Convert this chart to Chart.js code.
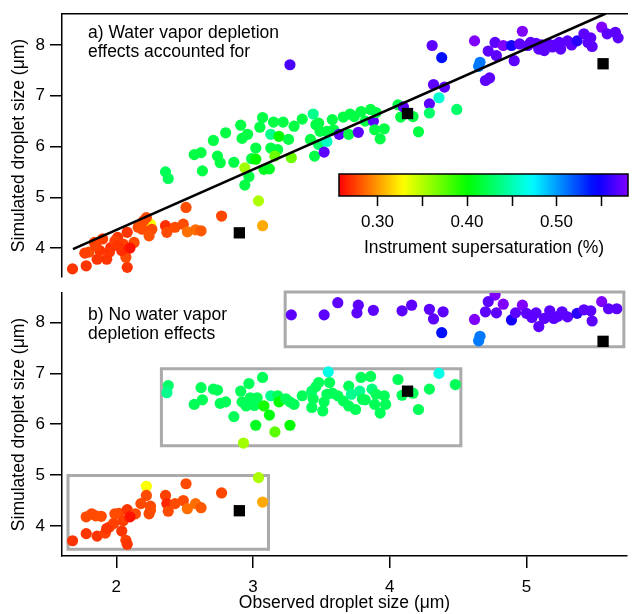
<!DOCTYPE html>
<html>
<head>
<meta charset="utf-8">
<script src="https://cdn.jsdelivr.net/npm/chart.js@4"></script>
<style>
  html, body { margin: 0; padding: 0; background: #fff; }
  #wrap { position: relative; width: 635px; height: 614px; }
  #wrap canvas { position: absolute; left: 0; }
  #topChart { top: 0; }
  #botChart { top: 285px; }
</style>
</head>
<body>
<div id="wrap">
  <canvas id="topChart" width="635" height="285" style="width:635px;height:285px"></canvas>
  <canvas id="botChart" width="635" height="329" style="width:635px;height:329px"></canvas>
</div>
<script>
// shared axis ticks
const xTicks = [2, 3, 4, 5];
const yTicks = [4, 5, 6, 7, 8];
const cbarTicks = [0.30, 0.35, 0.40, 0.45, 0.50, 0.55];
const cbarMin = 0.257, cbarMax = 0.58;

// panel a: water vapor depletion accounted for
const obsA = [
  2.25,1.68,1.78,2.08,2.07,1.93,1.86,1.80,1.84,1.90,1.96,2.01,2.05,2.08,2.13,2.19,2.22,2.26,2.24,2.36,
  2.37,2.43,2.49,2.51,2.52,2.58,2.62,2.77,3.04,3.07,1.77,1.88,1.99,2.04,2.16,2.20,1.85,1.95,2.01,2.10,
  2.36,2.38,2.57,2.62,2.63,2.71,2.74,2.76,2.80,2.86,2.91,2.92,2.96,2.94,2.97,2.94,2.99,3.02,3.05,3.07,
  3.02,3.08,3.12,3.13,3.13,3.18,3.16,3.15,3.19,3.22,3.26,3.28,3.30,3.36,3.44,3.42,3.45,3.48,3.49,3.48,
  3.46,3.54,3.54,3.52,3.58,3.59,3.63,3.66,3.71,3.70,3.74,3.77,3.79,3.82,3.86,3.88,3.90,3.89,3.93,3.96,
  4.06,4.08,4.10,4.17,4.21,4.29,4.29,4.32,4.40,4.36,4.49,
  3.27,4.31,4.38,4.62,4.66,4.65,4.70,4.73,4.72,4.78,4.77,4.83,4.91,4.89,4.97,4.95,5.01,5.03,5.07,5.09,
  5.11,5.13,5.16,5.19,5.21,5.24,5.25,5.30,5.33,5.37,5.42,5.45,5.47,5.48,5.55,5.59,5.65,5.67
];
const simA = [
  4.47,3.59,3.65,3.62,3.82,3.78,3.78,3.92,4.11,4.18,4.01,4.21,4.08,4.31,4.11,4.37,4.60,4.37,4.24,4.44,
  4.31,4.41,4.47,4.80,4.32,4.36,4.34,4.63,4.93,4.44,3.90,3.95,4.14,3.95,4.41,4.54,4.05,3.92,4.05,4.00,
  5.50,5.37,5.84,5.88,5.52,6.12,5.81,5.68,6.27,5.69,6.42,6.16,6.24,5.58,5.41,5.24,5.76,5.97,6.38,6.57,
  5.75,5.55,5.56,6.24,5.97,5.94,5.81,6.48,6.20,6.48,6.14,5.78,6.40,6.54,6.64,6.14,5.81,6.46,6.30,6.04,
  6.43,6.30,6.10,5.89,6.53,6.33,6.24,6.58,6.64,6.24,6.59,6.28,6.69,6.50,6.73,6.50,6.67,6.33,6.15,6.35,
  6.82,6.58,6.78,6.59,6.29,6.84,6.66,7.22,7.17,6.96,6.73,
  7.61,7.99,7.75,8.08,7.66,7.58,7.30,7.35,7.88,7.79,8.05,7.99,7.69,7.99,8.27,8.02,7.99,8.05,8.03,7.92,
  8.00,7.89,8.02,7.96,8.00,8.05,7.92,8.08,8.00,8.08,8.22,8.05,8.14,7.97,8.35,8.22,8.25,8.14
];
const ssA = [
  .330,.272,.272,.272,.278,.272,.272,.278,.278,.275,.270,.272,.275,.272,.278,.278,.278,.278,.280,.270,
  .278,.278,.278,.278,.288,.288,.282,.277,.352,.305,.275,.272,.275,.270,.278,.278,.275,.272,.272,.262,
  .425,.425,.42,.42,.42,.42,.42,.42,.42,.42,.42,.42,.42,.355,.42,.42,.42,.42,.42,.42,
  .40,.41,.41,.44,.42,.42,.37,.42,.40,.42,.42,.37,.42,.42,.44,.42,.42,.42,.42,.43,
  .42,.42,.455,.57,.42,.42,.57,.42,.42,.42,.42,.57,.42,.42,.42,.57,.42,.42,.42,.42,
  .42,.42,.57,.42,.42,.57,.43,.57,.57,.46,.43,
  .565,.57,.54,.58,.51,.51,.57,.57,.57,.57,.57,.58,.57,.55,.58,.57,.57,.57,.57,.57,
  .57,.57,.57,.57,.57,.57,.57,.57,.57,.555,.57,.57,.57,.57,.58,.57,.57,.57
];

// panel b: no water vapor depletion
const obsB = [
  2.22,1.68,1.78,1.86,1.92,1.95,1.98,2.04,2.07,2.08,1.78,1.82,1.89,1.99,2.02,2.08,2.14,2.18,2.22,2.25,
  2.24,2.36,2.37,2.38,2.43,2.49,2.51,2.52,2.58,2.62,2.77,3.04,3.07,2.25,1.93,1.85,2.05,2.10,
  2.38,2.37,2.62,2.71,2.74,2.57,2.63,2.76,2.80,2.86,2.91,2.97,3.07,2.92,2.95,2.98,3.03,3.01,3.08,3.12,
  3.02,3.16,3.27,2.93,3.13,3.18,3.19,3.24,3.27,3.30,3.36,3.43,3.46,3.48,3.43,3.44,3.51,3.55,3.56,3.58,
  3.54,3.52,3.62,3.66,3.70,3.72,3.70,3.75,3.78,3.79,3.86,3.80,3.82,3.87,3.90,3.89,3.93,3.96,3.97,4.06,
  4.09,4.17,4.21,4.29,4.36,4.48,
  3.28,3.52,3.62,3.77,3.76,3.88,4.09,4.16,4.29,4.32,4.39,4.38,4.62,4.66,4.65,4.77,4.72,4.70,4.78,4.83,
  4.89,4.92,4.97,5.00,5.04,5.07,5.09,5.13,5.17,5.20,5.23,5.26,5.30,5.37,5.42,5.47,5.48,5.55,5.60,5.66
];
const simB = [
  4.78,3.71,3.85,3.80,3.86,3.98,4.05,3.90,3.72,3.64,4.18,4.24,4.19,4.24,4.25,4.32,4.24,4.44,4.60,4.39,
  4.24,4.60,4.44,4.29,4.44,4.50,4.83,4.34,4.44,4.36,4.65,4.95,4.47,4.31,3.95,4.20,4.10,4.18,
  6.76,6.62,6.72,6.69,6.67,6.39,6.48,6.41,6.44,6.15,6.65,6.80,6.92,6.44,6.36,6.52,6.52,6.37,6.36,6.18,
  5.98,5.85,5.98,5.63,6.56,6.56,6.44,6.50,6.44,6.39,6.56,6.65,6.74,6.82,6.33,6.50,6.26,7.03,6.82,6.61,
  6.59,6.44,6.56,6.46,6.75,6.59,6.36,6.29,6.65,6.92,6.94,6.49,6.48,6.69,6.59,6.39,6.22,6.56,6.39,6.88,
  6.57,6.61,6.29,6.69,7.00,6.78,
  8.15,8.15,8.39,8.34,8.19,8.24,8.23,8.34,8.26,8.07,8.21,7.80,8.06,7.73,7.64,8.54,8.41,8.21,8.19,8.36,
  8.05,8.19,8.34,8.18,8.10,8.19,7.92,8.08,8.23,8.08,8.12,8.21,8.11,8.18,8.25,8.23,8.03,8.41,8.27,8.27
];
const ssB = [
  .330,.272,.272,.272,.275,.275,.275,.272,.275,.272,.278,.278,.278,.278,.278,.272,.278,.278,.278,.278,
  .278,.275,.268,.278,.278,.278,.278,.288,.288,.282,.277,.352,.305,.278,.272,.278,.275,.262,
  .43,.44,.425,.425,.425,.425,.425,.425,.425,.425,.425,.425,.425,.425,.425,.425,.425,.425,.395,.405,
  .41,.375,.40,.355,.44,.425,.40,.425,.425,.425,.425,.43,.425,.425,.425,.425,.425,.465,.425,.425,
  .425,.425,.425,.425,.425,.44,.425,.425,.44,.425,.425,.425,.425,.435,.425,.425,.425,.425,.425,.425,
  .425,.425,.425,.425,.465,.425,
  .57,.57,.57,.57,.57,.57,.57,.57,.57,.57,.57,.54,.58,.51,.51,.58,.57,.57,.57,.58,
  .55,.57,.58,.57,.57,.57,.57,.57,.57,.57,.57,.57,.57,.555,.57,.57,.57,.58,.57,.57
];

// black squares (reference cases), same in both panels
const refObs = [2.90, 4.13, 5.56];
const refSim = [4.30, 6.65, 7.63];

// fit line in panel a
const fitObs = [1.683, 5.58];
const fitSim = [3.98, 8.62];

// grey boxes in panel b: [obs lo, obs hi], [sim lo, sim hi]
const boxObs = [[1.647, 3.113], [2.33, 4.52], [3.235, 5.712]];
const boxSim = [[3.543, 4.994], [5.576, 7.09], [7.524, 8.60]];

const FONT = "'Liberation Sans', Arial, Helvetica, sans-serif";
Chart.defaults.font.family = FONT;
Chart.defaults.font.size = 17;
Chart.defaults.color = '#000';

const xMin = 1.603, xMax = 5.735;

function ssColor(s) {
  const t = Math.min(1, Math.max(0, (s - cbarMin) / (cbarMax - cbarMin)));
  return 'hsl(' + (270 * t).toFixed(1) + ',100%,50%)';
}
const toPts = (xs, ys) => xs.map((x, i) => ({ x: x, y: ys[i] }));

// no extra padding from tick labels, so the plot areas line up with the picture
function noPad(s) {
  s.paddingTop = 0; s.paddingBottom = 0; s.paddingLeft = 0; s.paddingRight = 0;
}

function yScale(min, max) {
  return {
    type: 'linear', min: min, max: max,
    afterFit: s => { s.width = 62; noPad(s); },
    afterBuildTicks: s => { s.ticks = yTicks.map(v => ({ value: v })); },
    ticks: { padding: 5, font: { size: 17 } },
    grid: { drawOnChartArea: false, drawTicks: true, tickLength: 12, color: '#000', lineWidth: 1.5 },
    border: { display: true, color: '#000', width: 1.5 },
    title: { display: true, text: 'Simulated droplet size (\u03bcm)', font: { size: 17.5 }, padding: { top: 9, bottom: 0 } }
  };
}

const panelText = {
  id: 'panelText',
  afterDraw(chart, args, opts) {
    const ctx = chart.ctx;
    ctx.save();
    ctx.font = '17.5px ' + FONT;
    ctx.fillStyle = '#000';
    ctx.textBaseline = 'middle';
    opts.lines.forEach((t, i) => ctx.fillText(t, 88, opts.y + i * 19));
    ctx.restore();
  }
};

const colorBar = {
  id: 'colorBar',
  afterDraw(chart) {
    const ctx = chart.ctx;
    const x0 = 339, x1 = 628, y0 = 174, y1 = 196;
    const px = v => x0 + (v - cbarMin) / (cbarMax - cbarMin) * (x1 - x0);
    ctx.save();
    const g = ctx.createLinearGradient(x0, 0, x1, 0);
    for (let i = 0; i <= 40; i++) {
      const t = i / 40;
      g.addColorStop(t, ssColor(cbarMin + t * (cbarMax - cbarMin)));
    }
    ctx.fillStyle = g;
    ctx.fillRect(x0, y0, x1 - x0, y1 - y0);
    ctx.strokeStyle = '#000';
    ctx.lineWidth = 1.5;
    ctx.strokeRect(x0, y0, x1 - x0, y1 - y0);
    ctx.beginPath();
    cbarTicks.forEach(v => {
      const x = Math.round(px(v)) + 0.5;
      ctx.moveTo(x, y1);
      ctx.lineTo(x, y1 + 10);
    });
    ctx.stroke();
    ctx.fillStyle = '#000';
    ctx.textAlign = 'center';
    ctx.textBaseline = 'middle';
    ctx.font = '17px ' + FONT;
    cbarTicks.forEach((v, i) => {
      if (i % 2 === 0) ctx.fillText(v.toFixed(2), px(v), 222);
    });
    ctx.font = '17.5px ' + FONT;
    ctx.fillText('Instrument supersaturation (%)', 484, 248);
    ctx.restore();
  }
};

// top panel
new Chart(document.getElementById('topChart'), {
  type: 'scatter',
  data: {
    datasets: [
      { data: toPts(refObs, refSim), pointStyle: 'rect', pointRadius: 8, pointBackgroundColor: '#000', pointBorderWidth: 0 },
      { type: 'line', data: toPts(fitObs, fitSim), borderColor: '#000', borderWidth: 2.6, pointRadius: 0, fill: false },
      { data: toPts(obsA, simA), pointRadius: 5.6, pointBackgroundColor: ssA.map(ssColor), pointBorderWidth: 0 }
    ]
  },
  options: {
    responsive: false, animation: false,
    layout: { padding: { left: 0, right: 0, top: 0, bottom: 7 } },
    plugins: {
      legend: { display: false }, tooltip: { enabled: false },
      panelText: { lines: ['a) Water vapor depletion', 'effects accounted for'], y: 33 }
    },
    scales: {
      x: { type: 'linear', min: xMin, max: xMax, display: false },
      xTop: {
        axis: 'x', type: 'linear', position: 'top', min: xMin, max: xMax,
        afterFit: s => { s.height = 14; noPad(s); },
        grid: { display: false }, ticks: { display: false },
        border: { display: true, color: '#000', width: 1.5 }
      },
      y: yScale(3.43, 8.61)
    }
  },
  plugins: [panelText, colorBar]
});

// bottom panel
const boxSets = boxObs.map((bx, i) => {
  const by = boxSim[i];
  return {
    type: 'line',
    data: toPts([bx[0], bx[1], bx[1], bx[0], bx[0]], [by[0], by[0], by[1], by[1], by[0]]),
    borderColor: '#aaaaaa', borderWidth: 3, pointRadius: 0, fill: false,
    borderJoinStyle: 'miter', borderCapStyle: 'square', clip: false
  };
});

new Chart(document.getElementById('botChart'), {
  type: 'scatter',
  data: {
    datasets: [
      { data: toPts(refObs, refSim), pointStyle: 'rect', pointRadius: 8, pointBackgroundColor: '#000', pointBorderWidth: 0 },
      { data: toPts(obsB, simB), pointRadius: 5.6, pointBackgroundColor: ssB.map(ssColor), pointBorderWidth: 0 }
    ].concat(boxSets)
  },
  options: {
    responsive: false, animation: false,
    layout: { padding: { left: 0, right: 0, top: 7, bottom: 0 } },
    plugins: {
      legend: { display: false }, tooltip: { enabled: false },
      panelText: { lines: ['b) No water vapor', 'depletion effects'], y: 30 }
    },
    scales: {
      x: {
        type: 'linear', min: xMin, max: xMax,
        afterFit: s => { s.height = 58; noPad(s); },
        afterBuildTicks: s => { s.ticks = xTicks.map(v => ({ value: v })); },
        ticks: { padding: 9, font: { size: 17 } },
        grid: { drawOnChartArea: false, drawTicks: true, tickLength: 12, color: '#000', lineWidth: 1.5 },
        border: { display: true, color: '#000', width: 1.5 },
        title: { display: true, text: 'Observed droplet size (\u03bcm)', font: { size: 17.5 }, padding: { top: 0, bottom: 0 } }
      },
      y: yScale(3.41, 8.58)
    }
  },
  plugins: [panelText]
});
</script>
</body>
</html>
